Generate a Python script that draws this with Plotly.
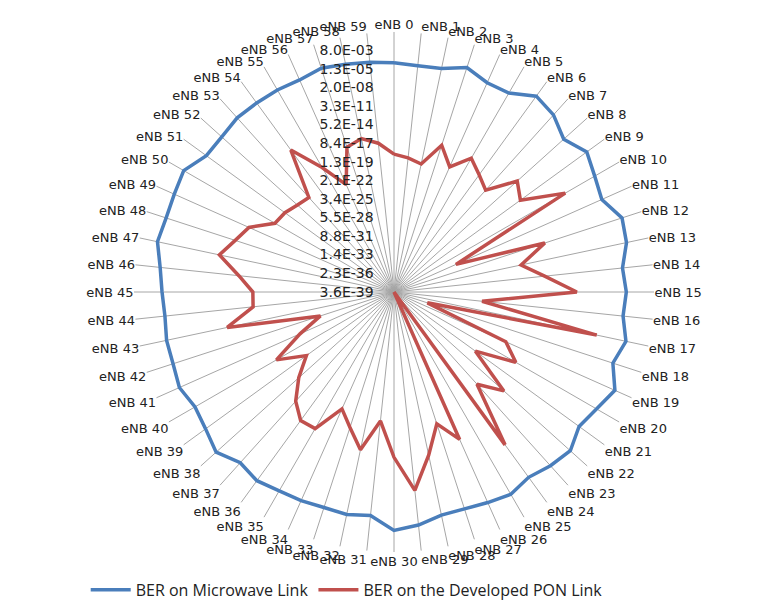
import math
import plotly.graph_objects as go

categories = [f"eNB {i}" for i in range(60)]

ber_microwave = [
    1.2e-4, 6.4e-5, 8.8e-5, 1.2e-3, 1.1e-4, 1.4e-4, 1.0e-2, 2.7e-3, 8.8e-5, 2.7e-3,
    2.8e-4, 6.4e-5, 4.5e-3, 2.2e-3, 1.4e-4, 3.4e-4, 1.7e-4, 1.8e-3, 1.6e-4, 9.1e-3,
    5.7e-4, 1.0e-4, 1.9e-3, 5.7e-4, 1.1e-4, 5.4e-4, 1.8e-4, 7.8e-5, 7.8e-5, 6.9e-4,
    2.9e-3, 2.4e-5, 6.4e-5, 4.6e-5, 8.8e-5, 1.3e-4, 4.7e-4, 1.4e-4, 3.9e-3, 4.1e-4,
    1.4e-4, 8.4e-4, 3.4e-4, 3.6e-4, 1.7e-4, 3.0e-4, 9.0e-4, 9.1e-3, 4.2e-3, 5.8e-3,
    1.3e-2, 3.0e-4, 2.8e-4, 6.9e-4, 5.4e-4, 4.7e-4, 3.2e-4, 9.5e-4, 4.1e-4, 2.2e-4,
]

ber_pon = [
    2.1e-18, 7.2e-19, 1.8e-19, 6.2e-16, 1.5e-18, 6.6e-16, 2.3e-17, 1.5e-18, 3.3e-14, 1.2e-15,
    2.1e-9, 5.8e-29, 2.7e-15, 1.3e-19, 2.3e-16, 1.2e-11, 7.8e-26, 5.7e-8, 6.9e-34, 9.6e-21,
    5.3e-18, 5.1e-24, 6.5e-17, 1.7e-20, 1.0e-10, 3.6e-39, 7.1e-15, 2.6e-18, 4.6e-14, 3.8e-9,
    2.8e-14, 1.2e-19, 7.1e-15, 1.0e-17, 6.6e-20, 2.0e-15, 2.9e-15, 4.7e-17, 7.1e-20, 7.2e-23,
    9.9e-19, 1.1e-23, 1.6e-27, 1.7e-13, 7.7e-18, 6.4e-18, 1.1e-15, 2.7e-12, 4.9e-14, 2.9e-15,
    1.8e-18, 7.2e-19, 1.3e-19, 5.1e-20, 9.5e-13, 1.6e-17, 1.8e-21, 3.0e-16, 1.5e-15, 1.2e-16,
]

tick_values = [3.6e-39, 2.25e-36, 1.406e-33, 8.789e-31, 5.493e-28, 3.433e-25, 2.146e-22,
               1.341e-19, 8.382e-17, 5.239e-14, 3.274e-11, 2.046e-8, 1.279e-5, 7.99e-3]
tick_labels = ["3.6E-39", "2.3E-36", "1.4E-33", "8.8E-31", "5.5E-28", "3.4E-25", "2.1E-22",
               "1.3E-19", "8.4E-17", "5.2E-14", "3.3E-11", "2.0E-08", "1.3E-05", "8.0E-03"]
axis_min = 3.6e-39
axis_max = 5.0

theta_closed = categories + categories[:1]
pad = "\u00a0" * 4
tick_text_padded = [t + pad for t in tick_labels]

fig = go.Figure()
fig.add_trace(go.Scatterpolar(
    r=ber_microwave + ber_microwave[:1], theta=theta_closed, mode="lines",
    name="BER on Microwave Link", line=dict(color="#4A7EBB", width=3.5),
))
fig.add_trace(go.Scatterpolar(
    r=ber_pon + ber_pon[:1], theta=theta_closed, mode="lines",
    name="BER on the Developed PON Link", line=dict(color="#C0504D", width=3.5),
))

half = 260
cx, cy = 386, 284
fig.update_layout(
    width=777, height=605,
    margin=dict(l=0, r=0, t=0, b=0),
    paper_bgcolor="white", plot_bgcolor="white",
    font=dict(family="DejaVu Sans", size=12, color="#222222"),
    polar=dict(
        domain=dict(x=[(cx - half) / 777, (cx + half) / 777],
                    y=[(605 - cy - half) / 605, (605 - cy + half) / 605]),
        bgcolor="white",
        angularaxis=dict(
            rotation=90, direction="clockwise", type="category",
            categoryorder="array", categoryarray=categories,
            showgrid=True, gridcolor="#a6a6a6", gridwidth=1,
            showline=False, ticks="", tickfont=dict(family="DejaVu Sans", size=13, color="#222222"),
        ),
        radialaxis=dict(
            type="log", range=[math.log10(axis_min), math.log10(axis_max)],
            angle=90, side="counterclockwise",
            tickvals=tick_values, ticktext=tick_text_padded, tickangle=90,
            showgrid=False, showline=False, ticks="",
            tickfont=dict(family="DejaVu Sans", size=14, color="#222222"),
        ),
    ),
    showlegend=True,
    legend=dict(orientation="h", x=0.1, xanchor="left", y=0.01, yanchor="bottom",
                font=dict(family="Open Sans", size=16, color="#222222"),
                itemwidth=40, tracegroupgap=0),
)

fig.write_html("out.html")
